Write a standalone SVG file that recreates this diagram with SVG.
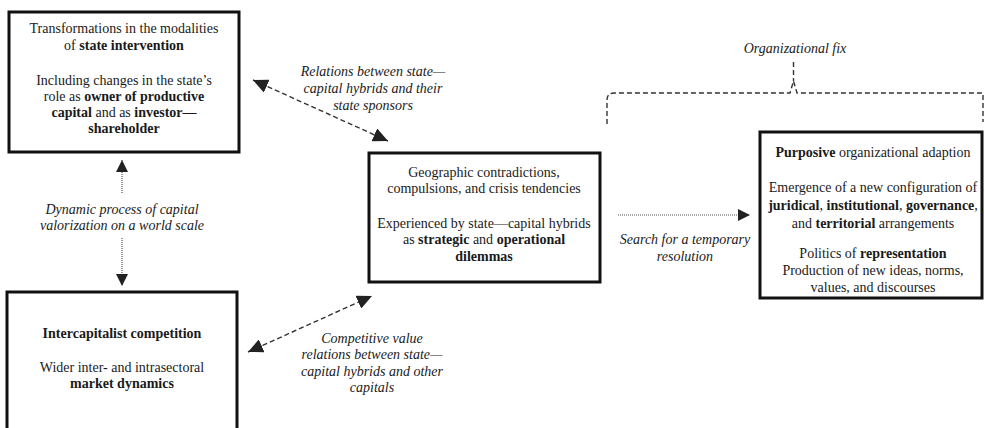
<svg xmlns="http://www.w3.org/2000/svg" width="984" height="428" viewBox="0 0 984 428">
<style>
.box{fill:#fff;stroke:#111;stroke-width:3}
text{font-family:"Liberation Serif","Times New Roman",serif;font-size:14px;fill:#1a1a1a;text-anchor:middle}
.b{font-weight:bold}
.i{font-style:italic}
.dash{fill:none;stroke:#333;stroke-width:1.4;stroke-dasharray:5,3}
.dot{fill:none;stroke:#555;stroke-width:1.2;stroke-dasharray:1,1}
</style>
<defs>
<marker id="ah" viewBox="0 0 15 14" refX="15" refY="7" markerWidth="15" markerHeight="14" markerUnits="userSpaceOnUse" orient="auto-start-reverse">
<path d="M0,0 L15,7 L0,14 Z" fill="#222"/>
</marker>
<marker id="ahs" viewBox="0 0 12 12" refX="12" refY="6" markerWidth="12" markerHeight="12" markerUnits="userSpaceOnUse" orient="auto-start-reverse">
<path d="M0,0 L12,6 L0,12 Z" fill="#222"/>
</marker>
</defs>

<g id="connectors">
<line class="dash" x1="253" y1="80" x2="388" y2="141" marker-start="url(#ah)" marker-end="url(#ah)"/>
<line class="dash" x1="248" y1="352" x2="372" y2="296" marker-start="url(#ah)" marker-end="url(#ah)"/>
<line class="dot" x1="122" y1="193" x2="122" y2="160" marker-end="url(#ahs)"/>
<line class="dot" x1="122" y1="238" x2="122" y2="286" marker-end="url(#ahs)"/>
<line class="dot" x1="618" y1="215" x2="750" y2="215" marker-end="url(#ahs)"/>
<path class="dash" d="M607,124 L607,100 Q607,93 614,93 L790,93 L793.5,81 L797,93 L983,93 L983,122"/>
<line class="dash" x1="793.5" y1="62" x2="793.5" y2="81"/>
<text class="i" x="795" y="53">Organizational fix</text>
<text class="i" x="373" y="76">Relations between state—</text>
<text class="i" x="373" y="93">capital hybrids and  their</text>
<text class="i" x="373" y="110">state sponsors</text>
<text class="i" x="122" y="214">Dynamic process of capital</text>
<text class="i" x="122" y="230">valorization on a world scale</text>
<text class="i" x="685" y="244">Search for a temporary</text>
<text class="i" x="685" y="261">resolution</text>
<text class="i" x="372" y="343">Competitive value</text>
<text class="i" x="372" y="359">relations between state—</text>
<text class="i" x="372" y="376">capital hybrids and other</text>
<text class="i" x="372" y="392">capitals</text>
</g>

<g id="node-state">
<rect class="box" x="9" y="12" width="230" height="140"/>
<text x="124" y="33">Transformations in the modalities</text>
<text x="124" y="50">of <tspan class="b">state intervention</tspan></text>
<text x="124" y="85">Including changes in the state’s</text>
<text x="124" y="101">role as <tspan class="b">owner of productive</tspan></text>
<text x="124" y="117"><tspan class="b">capital</tspan> and as <tspan class="b">investor—</tspan></text>
<text x="124" y="133" class="b">shareholder</text>
</g>

<g id="node-competition">
<rect class="box" x="7" y="292" width="230" height="160"/>
<text x="122" y="338" class="b">Intercapitalist competition</text>
<text x="122" y="372">Wider inter- and intrasectoral</text>
<text x="122" y="388" class="b">market dynamics</text>
</g>

<g id="node-contradictions">
<rect class="box" x="369" y="153" width="231" height="129"/>
<text x="484" y="177">Geographic contradictions,</text>
<text x="484" y="193">compulsions, and crisis tendencies</text>
<text x="484" y="228">Experienced by state—capital hybrids</text>
<text x="484" y="244">as <tspan class="b">strategic</tspan> and <tspan class="b">operational</tspan></text>
<text x="484" y="261" class="b">dilemmas</text>
</g>

<g id="node-adaption">
<rect class="box" x="760" y="132" width="222" height="166"/>
<text x="873" y="157"><tspan class="b">Purposive</tspan> organizational adaption</text>
<text x="873" y="192">Emergence of a new configuration of</text>
<text x="873" y="210"><tspan class="b">juridical</tspan>, <tspan class="b">institutional</tspan>, <tspan class="b">governance</tspan>,</text>
<text x="873" y="228">and <tspan class="b">territorial</tspan> arrangements</text>
<text x="873" y="258">Politics of <tspan class="b">representation</tspan></text>
<text x="873" y="275">Production of new ideas, norms,</text>
<text x="873" y="292">values, and discourses</text>
</g>
</svg>
